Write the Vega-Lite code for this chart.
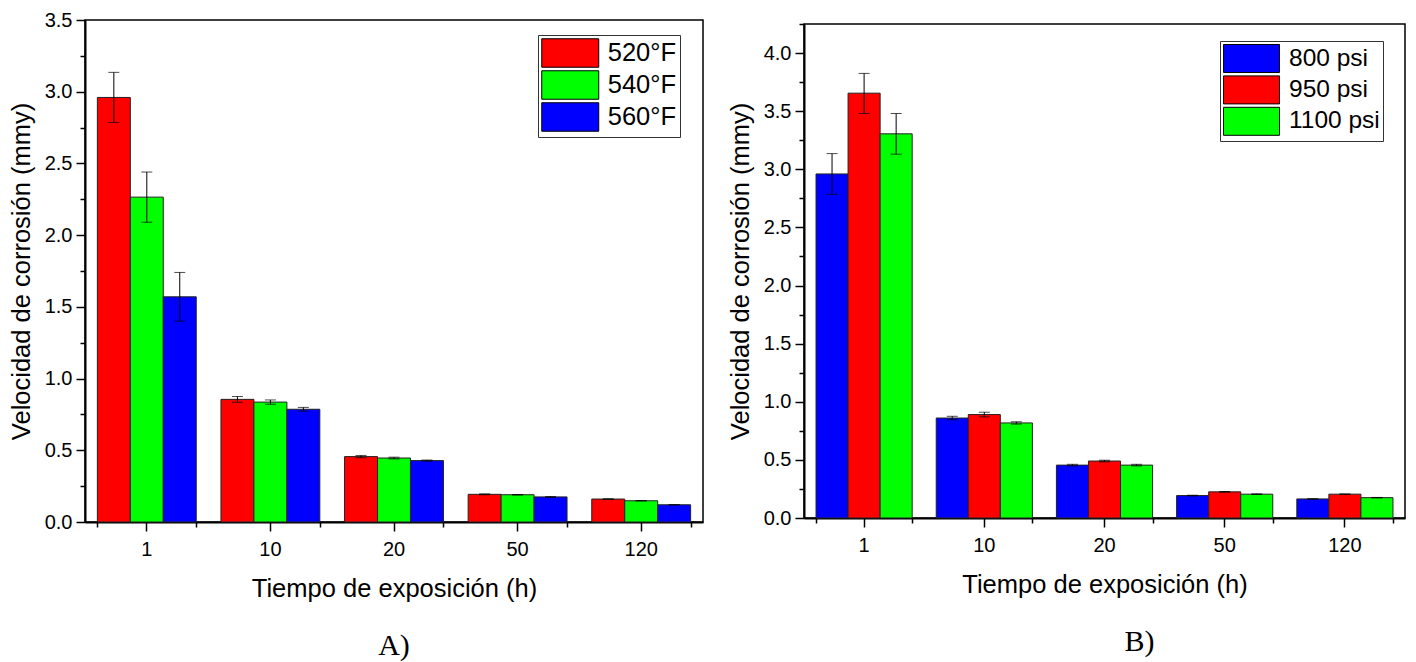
{
  "$schema": "https://vega.github.io/schema/vega-lite/v6.json",
  "padding": {"left": 8, "top": 9, "right": 5, "bottom": 5},
  "background": "white",
  "config": {
    "font": "Liberation Sans",
    "view": {"stroke": "black", "strokeWidth": 1.5},
    "axis": {
      "labelFont": "Liberation Sans",
      "titleFont": "Liberation Sans",
      "labelColor": "black",
      "titleColor": "black",
      "titleFontWeight": "normal",
      "domainColor": "black",
      "tickColor": "black",
      "labelFontSize": 20,
      "titleFontSize": 25.5,
      "grid": false
    },
    "legend": {"labelFont": "Liberation Sans", "labelColor": "black"},
    "title": {"font": "Liberation Serif", "fontWeight": "normal", "color": "black"}
  },
  "datasets": {
    "a": [
      {"t": "1", "temp": "520°F", "v": 2.96, "lo": 2.785, "hi": 3.135},
      {"t": "1", "temp": "540°F", "v": 2.265, "lo": 2.09, "hi": 2.44},
      {"t": "1", "temp": "560°F", "v": 1.57, "lo": 1.4, "hi": 1.74},
      {"t": "10", "temp": "520°F", "v": 0.855, "lo": 0.835, "hi": 0.875},
      {"t": "10", "temp": "540°F", "v": 0.836, "lo": 0.821, "hi": 0.851},
      {"t": "10", "temp": "560°F", "v": 0.786, "lo": 0.773, "hi": 0.799},
      {"t": "20", "temp": "520°F", "v": 0.456, "lo": 0.448, "hi": 0.464},
      {"t": "20", "temp": "540°F", "v": 0.446, "lo": 0.44, "hi": 0.452},
      {"t": "20", "temp": "560°F", "v": 0.428, "lo": 0.424, "hi": 0.432},
      {"t": "50", "temp": "520°F", "v": 0.193, "lo": 0.19, "hi": 0.196},
      {"t": "50", "temp": "540°F", "v": 0.19, "lo": 0.188, "hi": 0.192},
      {"t": "50", "temp": "560°F", "v": 0.175, "lo": 0.172, "hi": 0.178},
      {"t": "120", "temp": "520°F", "v": 0.16, "lo": 0.158, "hi": 0.162},
      {"t": "120", "temp": "540°F", "v": 0.148, "lo": 0.147, "hi": 0.149},
      {"t": "120", "temp": "560°F", "v": 0.12, "lo": 0.119, "hi": 0.121}
    ],
    "b": [
      {"t": "1", "pres": "800 psi", "v": 2.96, "lo": 2.785, "hi": 3.135},
      {"t": "1", "pres": "950 psi", "v": 3.655, "lo": 3.48, "hi": 3.825},
      {"t": "1", "pres": "1100 psi", "v": 3.305, "lo": 3.13, "hi": 3.48},
      {"t": "10", "pres": "800 psi", "v": 0.86, "lo": 0.845, "hi": 0.875},
      {"t": "10", "pres": "950 psi", "v": 0.89, "lo": 0.87, "hi": 0.91},
      {"t": "10", "pres": "1100 psi", "v": 0.818, "lo": 0.808, "hi": 0.828},
      {"t": "20", "pres": "800 psi", "v": 0.455, "lo": 0.448, "hi": 0.462},
      {"t": "20", "pres": "950 psi", "v": 0.49, "lo": 0.483, "hi": 0.497},
      {"t": "20", "pres": "1100 psi", "v": 0.455, "lo": 0.448, "hi": 0.462},
      {"t": "50", "pres": "800 psi", "v": 0.193, "lo": 0.19, "hi": 0.196},
      {"t": "50", "pres": "950 psi", "v": 0.225, "lo": 0.222, "hi": 0.228},
      {"t": "50", "pres": "1100 psi", "v": 0.205, "lo": 0.202, "hi": 0.208},
      {"t": "120", "pres": "800 psi", "v": 0.164, "lo": 0.162, "hi": 0.166},
      {"t": "120", "pres": "950 psi", "v": 0.205, "lo": 0.203, "hi": 0.207},
      {"t": "120", "pres": "1100 psi", "v": 0.175, "lo": 0.173, "hi": 0.177}
    ]
  },
  "bounds": "flush",
  "center": true,
  "spacing": 101,
  "resolve": {
    "scale": {"color": "independent", "x": "independent", "y": "independent", "xOffset": "independent"},
    "legend": {"color": "independent"}
  },
  "hconcat": [
    {
      "width": 618,
      "height": 502,
      "data": {"name": "a"},
      "title": {"text": "A)", "orient": "bottom", "fontSize": 30, "offset": 29},
      "encoding": {
        "x": {"field": "t", "type": "nominal", "sort": ["1", "10", "20", "50", "120"],
              "scale": {"domain": ["1", "10", "20", "50", "120"], "paddingInner": 0.2, "paddingOuter": 0.1}},
        "xOffset": {"field": "temp", "type": "nominal", "scale": {"domain": ["520°F", "540°F", "560°F"]}}
      },
      "resolve": {"axis": {"x": "independent", "y": "independent"}},
      "layer": [
        {
          "mark": {"type": "bar", "stroke": "#222222", "strokeWidth": 1},
          "encoding": {
            "x": {"field": "t", "type": "nominal",
                  "axis": {"orient": "bottom", "title": "Tiempo de exposición (h)", "labelAngle": 0, "tickSize": 9, "tickWidth": 1.5, "domainWidth": 2, "labelPadding": 8, "titlePadding": 17}},
            "y": {"field": "v", "type": "quantitative", "scale": {"domain": [0, 3.5], "nice": false},
                  "axis": {"orient": "left", "title": "Velocidad de corrosión (mmy)", "values": [0, 0.5, 1, 1.5, 2, 2.5, 3, 3.5], "format": ".1f", "tickSize": 9, "tickWidth": 1.5, "domainWidth": 2, "labelPadding": 4, "titlePadding": 10}},
            "color": {"field": "temp", "type": "nominal",
                      "scale": {"domain": ["520°F", "540°F", "560°F"], "range": ["#ff0000", "#00ff00", "#0000ff"]},
                      "legend": {"orient": "none", "legendX": 453, "legendY": 15, "title": null,
                                 "strokeColor": "#333333", "fillColor": "white", "padding": 3,
                                 "symbolType": "M-2,-1H2V1H-2Z", "symbolSize": 812, "symbolOffset": 14.25,
                                 "symbolStrokeColor": "black", "symbolStrokeWidth": 1, "symbolOpacity": 1,
                                 "labelFontSize": 25.5, "labelOffset": 22.5, "rowPadding": -2}}
          }
        },
        {
          "mark": {"type": "rule", "color": "black", "strokeWidth": 1},
          "encoding": {
            "x": {"field": "t", "type": "nominal",
                  "axis": {"orient": "bottom", "title": null, "labels": false, "domain": false, "tickBand": "extent", "tickSize": 5, "tickWidth": 1.5}},
            "y": {"field": "lo", "type": "quantitative",
                  "axis": {"orient": "left", "title": null, "labels": false, "domain": false, "values": [0.25, 0.75, 1.25, 1.75, 2.25, 2.75, 3.25], "tickSize": 5, "tickWidth": 1.5}},
            "y2": {"field": "hi"}
          }
        },
        {
          "mark": {"type": "tick", "color": "black", "size": 11, "thickness": 1, "orient": "horizontal"},
          "encoding": {"x": {"field": "t", "type": "nominal", "axis": null}, "y": {"field": "lo", "type": "quantitative", "axis": null}}
        },
        {
          "mark": {"type": "tick", "color": "black", "size": 11, "thickness": 1, "orient": "horizontal"},
          "encoding": {"x": {"field": "t", "type": "nominal", "axis": null}, "y": {"field": "hi", "type": "quantitative", "axis": null}}
        }
      ]
    },
    {
      "width": 601,
      "height": 494,
      "data": {"name": "b"},
      "title": {"text": "B)", "orient": "bottom", "fontSize": 30, "offset": 29, "dx": 35},
      "encoding": {
        "x": {"field": "t", "type": "nominal", "sort": ["1", "10", "20", "50", "120"],
              "scale": {"domain": ["1", "10", "20", "50", "120"], "paddingInner": 0.2, "paddingOuter": 0.1}},
        "xOffset": {"field": "pres", "type": "nominal", "scale": {"domain": ["800 psi", "950 psi", "1100 psi"]}}
      },
      "resolve": {"axis": {"x": "independent", "y": "independent"}},
      "layer": [
        {
          "mark": {"type": "bar", "stroke": "#222222", "strokeWidth": 1},
          "encoding": {
            "x": {"field": "t", "type": "nominal",
                  "axis": {"orient": "bottom", "title": "Tiempo de exposición (h)", "labelAngle": 0, "tickSize": 9, "tickWidth": 1.5, "domainWidth": 2, "labelPadding": 8, "titlePadding": 17}},
            "y": {"field": "v", "type": "quantitative", "scale": {"domain": [0, 4.25], "nice": false},
                  "axis": {"orient": "left", "title": "Velocidad de corrosión (mmy)", "values": [0, 0.5, 1, 1.5, 2, 2.5, 3, 3.5, 4], "format": ".1f", "tickSize": 9, "tickWidth": 1.5, "domainWidth": 2, "labelPadding": 4, "titlePadding": 10}},
            "color": {"field": "pres", "type": "nominal",
                      "scale": {"domain": ["800 psi", "950 psi", "1100 psi"], "range": ["#0000ff", "#ff0000", "#00ff00"]},
                      "legend": {"orient": "none", "legendX": 416, "legendY": 17, "title": null,
                                 "strokeColor": "#333333", "fillColor": "white", "padding": 3,
                                 "symbolType": "M-2,-1H2V1H-2Z", "symbolSize": 784, "symbolOffset": 14,
                                 "symbolStrokeColor": "black", "symbolStrokeWidth": 1, "symbolOpacity": 1,
                                 "labelFontSize": 24.5, "labelOffset": 23, "rowPadding": -1.6}}
          }
        },
        {
          "mark": {"type": "rule", "color": "black", "strokeWidth": 1},
          "encoding": {
            "x": {"field": "t", "type": "nominal",
                  "axis": {"orient": "bottom", "title": null, "labels": false, "domain": false, "tickBand": "extent", "tickSize": 5, "tickWidth": 1.5}},
            "y": {"field": "lo", "type": "quantitative",
                  "axis": {"orient": "left", "title": null, "labels": false, "domain": false, "values": [0.25, 0.75, 1.25, 1.75, 2.25, 2.75, 3.25, 3.75, 4.25], "tickSize": 5, "tickWidth": 1.5}},
            "y2": {"field": "hi"}
          }
        },
        {
          "mark": {"type": "tick", "color": "black", "size": 11, "thickness": 1, "orient": "horizontal"},
          "encoding": {"x": {"field": "t", "type": "nominal", "axis": null}, "y": {"field": "lo", "type": "quantitative", "axis": null}}
        },
        {
          "mark": {"type": "tick", "color": "black", "size": 11, "thickness": 1, "orient": "horizontal"},
          "encoding": {"x": {"field": "t", "type": "nominal", "axis": null}, "y": {"field": "hi", "type": "quantitative", "axis": null}}
        }
      ]
    }
  ]
}
